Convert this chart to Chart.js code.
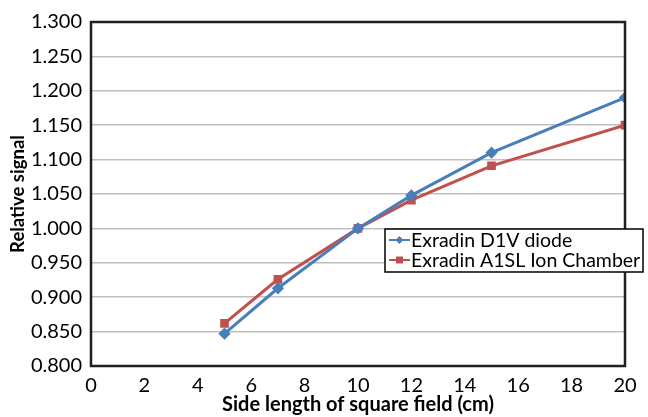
<!DOCTYPE html>
<html><head><meta charset="utf-8">
<script src="https://cdn.jsdelivr.net/npm/chart.js@4.4.1/dist/chart.umd.min.js"></script>
<style>html,body{margin:0;padding:0;background:#fff}#wrap{width:648px;height:417px}</style>
</head><body><div id="wrap"><canvas id="c" width="648" height="417"></canvas></div>
<script>
const fieldSizes = [5, 7, 10, 12, 15, 20];
const diodeValues = [0.847, 0.913, 1.000, 1.048, 1.110, 1.190];
const ionChamberValues = [0.862, 0.926, 1.000, 1.041, 1.091, 1.150];
const seriesLabels = ['Exradin D1V diode', 'Exradin A1SL Ion Chamber'];
const xTitle = 'Side length of square field (cm)';
const yTitle = 'Relative signal';

const FONT = 'Lato, "Open Sans", sans-serif';
const toPts = v => fieldSizes.map((x, i) => ({x, y: v[i]}));

const frame = {
  id: 'frame',
  afterDatasetsDraw(chart) {
    const {ctx, chartArea: a} = chart;
    ctx.save();
    ctx.strokeStyle = '#231f20'; ctx.lineWidth = 2.5;
    ctx.strokeRect(a.left, a.top, a.right - a.left, a.bottom - a.top);
    // legend
    const lx = 385, ly = 229, lw = 258, lh = 43;
    ctx.fillStyle = '#fff'; ctx.fillRect(lx, ly, lw, lh);
    ctx.strokeStyle = '#000'; ctx.lineWidth = 1.5; ctx.strokeRect(lx, ly, lw, lh);
    ctx.font = '19.5px ' + FONT; ctx.textBaseline = 'middle'; ctx.textAlign = 'left';
    chart.data.datasets.forEach((ds, i) => {
      const y = ly + 11 + i * 20;
      ctx.strokeStyle = ds.borderColor; ctx.lineWidth = 2;
      ctx.beginPath(); ctx.moveTo(389, y); ctx.lineTo(410, y); ctx.stroke();
      ctx.fillStyle = ds.borderColor;
      ctx.beginPath();
      if (ds.pointStyle === 'rect') { ctx.rect(396, y - 3.5, 7, 7); }
      else { ctx.moveTo(399.5, y - 4); ctx.lineTo(403.5, y); ctx.lineTo(399.5, y + 4); ctx.lineTo(395.5, y); ctx.closePath(); }
      ctx.fill();
      ctx.fillStyle = '#000';
      ctx.fillText(ds.label, 411, y + 1);
    });
    ctx.restore();
  }
};

new Chart(document.getElementById('c'), {
  type: 'line',
  data: {
    datasets: [
      {label: seriesLabels[0], data: toPts(diodeValues), borderColor: '#4a7ebb', backgroundColor: '#4a7ebb',
       borderWidth: 3, pointStyle: 'rectRot', pointRadius: 4, tension: 0},
      {label: seriesLabels[1], data: toPts(ionChamberValues), borderColor: '#c0504d', backgroundColor: '#c0504d',
       borderWidth: 3, pointStyle: 'rect', pointRadius: 4, tension: 0}
    ]
  },
  options: {
    responsive: false, animation: false, devicePixelRatio: 1,
    layout: {padding: {left: 0, right: 23, top: 22, bottom: 0}},
    plugins: {legend: {display: false}, tooltip: {enabled: false}},
    scales: {
      x: {type: 'linear', min: 0, max: 20,
        ticks: {stepSize: 2, color: '#000', font: {family: FONT, size: 20}, padding: 0},
        grid: {display: false, drawTicks: true},
        border: {display: false},
        title: {display: true, text: xTitle, color: '#000', font: {family: FONT, size: 20, weight: 'bold'}, padding: {top: 0, bottom: 0}},
        afterFit(s) { s.height = 51; }
      },
      y: {min: 0.8, max: 1.3,
        ticks: {stepSize: 0.05, color: '#000', font: {family: FONT, size: 20}, padding: 9,
          callback: v => Number(v).toFixed(3)},
        grid: {color: '#bfbfbf', lineWidth: 1.5, drawTicks: false},
        border: {display: false},
        title: {display: true, text: yTitle, color: '#000', font: {family: FONT, size: 18.5, weight: 'bold'}, padding: {top: 7, bottom: 0}},
        afterFit(s) { s.width = 91; }
      }
    }
  },
  plugins: [frame]
});
</script></body></html>
